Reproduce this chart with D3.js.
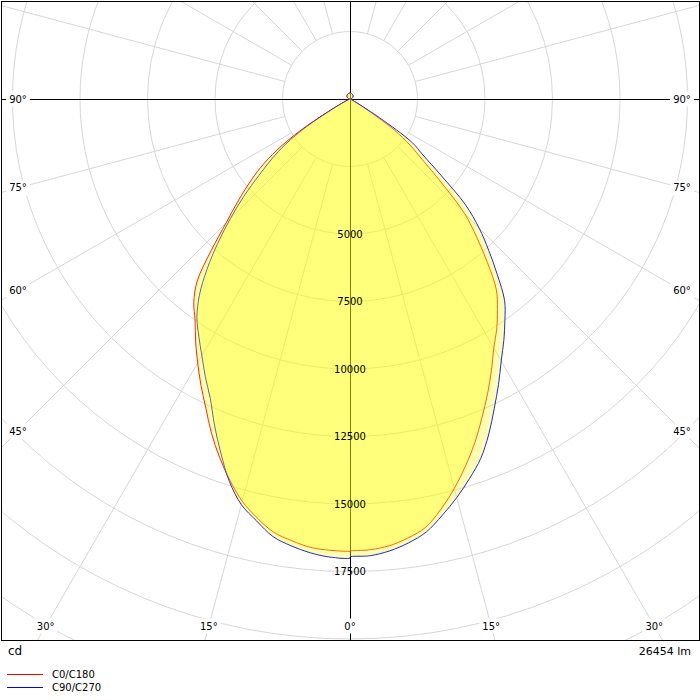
<!DOCTYPE html>
<html>
<head>
<meta charset="utf-8">
<script src="https://cdn.jsdelivr.net/npm/d3@7"></script>
<style>
  body { margin: 0; background: #fff; }
  text { font-family: "DejaVu Sans", sans-serif; fill: #000; }
</style>
</head>
<body>
<svg id="chart" width="700" height="700"></svg>
<script>
// gamma angles in degrees, 0 = straight down, 90 = horizontal, 180 = up
var gammaLower = [0,2.5,5,7.5,10,12.5,15,17.5,20,22.5,25,27.5,30,32.5,35,37.5,40,42.5,45,
                  47.5,50,52.5,55,57.5,60,62.5,65,67.5,70,72.5,75,77.5,80,82.5,85,87.5,90];
var gammaUpper = [105,120,135,150,165,180];

// luminous intensity (cd)
var c0   = [16740,16710,16610,16400,16110,15560,14930,14240,13530,12770,12050,11340,10650,10110,9520,8900,7920,6950,5990,
            4600,3500,2800,2000,800,250,90,40,20,10,5,0,0,0,0,0,0,0];
var c180 = [16745,16730,16670,16500,16290,15890,15420,14800,14120,13400,12630,11950,11280,10640,10000,9500,8800,7600,6480,
            5650,4900,4180,3300,2200,900,300,100,40,15,5,0,0,0,0,0,0,0];
var c90  = [16960,16930,16800,16580,16280,15790,15280,14730,14160,13430,12640,11910,11200,10600,10000,9400,8480,7600,6760,
            5800,4400,3400,2800,1300,350,120,50,20,10,5,0,0,0,0,0,0,0];
var c270 = [17000,16980,16870,16690,16450,16000,15550,14850,13970,13100,12240,11600,10970,10420,9880,9160,8240,7250,6260,
            5330,4400,3650,2900,1900,750,250,80,30,10,5,0,0,0,0,0,0,0];
var upperIntensity = [55,110,155,190,212,220];

var ringValues = [2500,5000,7500,10000,12500,15000,17500,20000,22500,25000];
var ringLabels = [5000,7500,10000,12500,15000,17500];
var angleLabels = [0,15,30,45,60,75,90];
var seriesNames = ['C0/C180','C90/C270'];
var seriesColors = ['#ff0000','#0000ff'];
var unitText = 'cd';
var fluxText = '26454 lm';

var svg = d3.select('#chart');
var cx = 350, cy = 99;
var box = {x0:1.5, y0:1.5, x1:699.5, y1:640.5};

var r = d3.scaleLinear().domain([0,25000]).range([0,675]);

function pt(side, g, v){
  var a = g*Math.PI/180;
  return [cx + side*r(v)*Math.sin(a), cy + r(v)*Math.cos(a)];
}

svg.append('defs').append('clipPath').attr('id','plotclip')
  .append('rect')
  .attr('x',box.x0).attr('y',box.y0)
  .attr('width',box.x1-box.x0).attr('height',box.y1-box.y0);

var plot = svg.append('g').attr('clip-path','url(#plotclip)');

//grid circles
plot.selectAll('.ring')
  .data(ringValues)
  .enter()
  .append('circle')
  .attr('class','ring')
  .attr('cx',cx).attr('cy',cy)
  .attr('r',d => r(d))
  .style('fill','none')
  .style('stroke','#d6d6d6')
  .style('stroke-width',1);

//radial lines every 15 degrees, starting at the inner ring
var spokes = d3.range(0,360,15).filter(d => d % 90 != 0);
plot.selectAll('.spoke')
  .data(spokes)
  .enter()
  .append('line')
  .attr('class','spoke')
  .attr('x1',d => pt(1,d,2500)[0]).attr('y1',d => pt(1,d,2500)[1])
  .attr('x2',d => pt(1,d,60000)[0]).attr('y2',d => pt(1,d,60000)[1])
  .style('stroke','#d6d6d6')
  .style('stroke-width',1);

//axes
plot.append('line')
  .attr('x1',0).attr('x2',700).attr('y1',cy+0.5).attr('y2',cy+0.5)
  .style('stroke','#000');
plot.append('line')
  .attr('x1',cx+0.5).attr('x2',cx+0.5).attr('y1',0).attr('y2',700)
  .style('stroke','#000');

//curves: right half then left half back
var gammaAll = gammaLower.concat(gammaUpper);
function outline(rightVals, leftVals){
  var right = gammaAll.map((g,i) => pt(1,g,rightVals[i]));
  var left = gammaAll.map((g,i) => pt(-1,g,leftVals[i])).reverse();
  return right.concat(left);
}
var curves = [
  outline(c0.concat(upperIntensity), c180.concat(upperIntensity)),
  outline(c90.concat(upperIntensity), c270.concat(upperIntensity))
];
var line = d3.line().curve(d3.curveCatmullRomClosed.alpha(0.5));

plot.selectAll('.curve')
  .data(curves)
  .enter()
  .append('path')
  .attr('class','curve')
  .attr('d',d => line(d))
  .style('fill','none')
  .style('stroke',(d,i) => seriesColors[i])
  .style('stroke-width',1);

plot.selectAll('.area')
  .data(curves)
  .enter()
  .append('path')
  .attr('class','area')
  .attr('d',d => line(d))
  .style('fill','#ffff00')
  .style('fill-opacity',0.3)
  .style('stroke','none');

//intensity labels on the vertical axis
plot.selectAll('.ringlabel')
  .data(ringLabels)
  .enter()
  .append('text')
  .attr('class','ringlabel')
  .attr('x',cx)
  .attr('y',d => cy + r(d))
  .attr('dy','0.35em')
  .attr('text-anchor','middle')
  .style('font-size','10px')
  .text(d => d);

//angle labels on an inset frame, with white backing
var inset = {x0:18, x1:682, y1:626};
var angleSpots = [];
angleLabels.forEach(function(g){
  var sides = g == 0 ? [1] : [-1,1];
  sides.forEach(function(s){
    var a = g*Math.PI/180;
    var tSide = Math.sin(a) > 0 ? (inset.x1-cx)/Math.sin(a) : Infinity;
    var tBot = Math.cos(a) > 1e-9 ? (inset.y1-cy)/Math.cos(a) : Infinity;
    var t = Math.min(tSide,tBot);
    angleSpots.push({g:g, x:cx + s*t*Math.sin(a), y:cy + t*Math.cos(a)});
  });
});

var alab = svg.selectAll('.anglelabel')
  .data(angleSpots)
  .enter()
  .append('g')
  .attr('class','anglelabel');
alab.append('text')
  .attr('x',d => d.x)
  .attr('y',d => d.y)
  .attr('dy','0.35em')
  .attr('text-anchor','middle')
  .style('font-size','10px')
  .text(d => d.g + '°');
alab.each(function(){
  var g = d3.select(this);
  var bb = g.select('text').node().getBBox();
  g.insert('rect','text')
    .attr('x',bb.x-3).attr('y',bb.y-2)
    .attr('width',bb.width+6).attr('height',bb.height+4)
    .style('fill','#fff');
});

//frame
svg.append('rect')
  .attr('x',box.x0).attr('y',box.y0)
  .attr('width',box.x1-box.x0).attr('height',box.y1-box.y0)
  .style('fill','none')
  .style('stroke','#000')
  .style('stroke-width',1);

svg.append('text')
  .attr('x',8).attr('y',655)
  .style('font-size','12px')
  .text(unitText);
svg.append('text')
  .attr('x',691).attr('y',655)
  .attr('text-anchor','end')
  .style('font-size','11px')
  .text(fluxText);

//legend
var legend = svg.selectAll('.legend')
  .data(seriesNames)
  .enter()
  .append('g')
  .attr('class','legend')
  .attr('transform',(d,i) => 'translate(0,' + (674 + i*13) + ')');
legend.append('line')
  .attr('x1',7).attr('x2',43).attr('y1',0.5).attr('y2',0.5)
  .style('stroke',(d,i) => seriesColors[i]);
legend.append('text')
  .attr('x',52).attr('y',0)
  .attr('dy','0.35em')
  .style('font-size','10px')
  .text(d => d);
</script>
</body>
</html>
